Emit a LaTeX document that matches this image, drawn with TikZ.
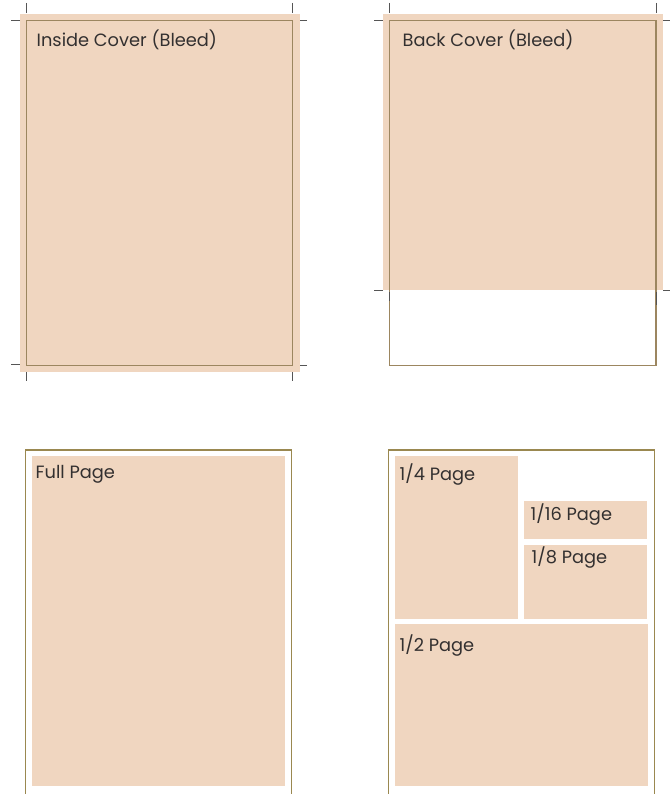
\documentclass[tikz,border=0pt]{standalone}
\usepackage{fontspec}
\setmainfont{Poppins}
\definecolor{bleed}{HTML}{F0D6C0}
\definecolor{trim}{HTML}{9C8660}
\definecolor{frameline}{HTML}{9A8850}
\definecolor{cropc}{HTML}{555555}
\definecolor{txt}{HTML}{333030}
\tikzset{
  bleedfill/.style={fill=bleed, draw=none},
  trimline/.style={draw=trim, line width=1.4pt},
  framel/.style={draw=frameline, line width=1.1pt},
  cropmark/.style={draw=cropc, line width=1pt},
  lbl/.style={anchor=base west, inner sep=0pt, text=txt, font=\fontsize{17.8}{20}\selectfont}
}
\begin{document}
\begin{tikzpicture}[x=1pt,y=-1pt]
\useasboundingbox (0,0) rectangle (671,794);
% ---- Inside cover (bleed)
\fill[bleedfill] (20,14) rectangle (300,371.7);
\draw[trimline] (26.7,20.7) rectangle (292.7,365.5);
\draw[cropmark] (26.7,3) -- (26.7,13);
\draw[cropmark] (11,20.7) -- (20,20.7);
\draw[cropmark] (292.7,3) -- (292.7,13);
\draw[cropmark] (300,20.7) -- (307,20.7);
\draw[cropmark] (11,364.5) -- (20,364.5);
\draw[cropmark] (26.7,372) -- (26.7,381);
\draw[cropmark] (300,365) -- (307,365);
\draw[cropmark] (292.7,372) -- (292.7,381);
\node[lbl] (inside) at (36.5,46.5) {Inside Cover (Bleed)};
% ---- Back cover (bleed)
\fill[bleedfill] (383.3,14) rectangle (663.3,290);
\draw[trimline] (389.5,20.7) rectangle (656,365.5);
\draw[cropmark] (389.5,3) -- (389.5,13);
\draw[cropmark] (374,20.7) -- (383,20.7);
\draw[cropmark] (656,3) -- (656,13);
\draw[cropmark] (663.3,20.7) -- (670,20.7);
\draw[cropmark] (374,290) -- (383,290);
\draw[cropmark] (663.3,290) -- (670,290);
\draw[cropmark] (389.5,292) -- (389.5,301);
\draw[cropmark] (656,292) -- (656,305);
\node[lbl] (back) at (402.5,46.5) {Back Cover (Bleed)};
% ---- Full page
\draw[framel] (25.7,794) -- (25.7,450) -- (291.7,450) -- (291.7,794);
\fill[bleedfill] (31.7,456) rectangle (285,785.7);
\node[lbl] (full) at (35.5,478.5) {Full Page};
% ---- Fractional pages
\draw[framel] (388.3,794) -- (388.3,450) -- (654.3,450) -- (654.3,794);
\fill[bleedfill] (395,456) rectangle (517.7,619.3);
\fill[bleedfill] (524,500.7) rectangle (646.7,539.3);
\fill[bleedfill] (524,545) rectangle (646.7,618.7);
\fill[bleedfill] (395,624) rectangle (648.3,785.7);
\node[lbl] (quarter) at (399.5,480) {1/4 Page};
\node[lbl] (sixteenth) at (530.5,520) {1/16 Page};
\node[lbl] (eighth) at (531.5,563.3) {1/8 Page};
\node[lbl] (half) at (399.5,651) {1/2 Page};
\end{tikzpicture}
\end{document}
